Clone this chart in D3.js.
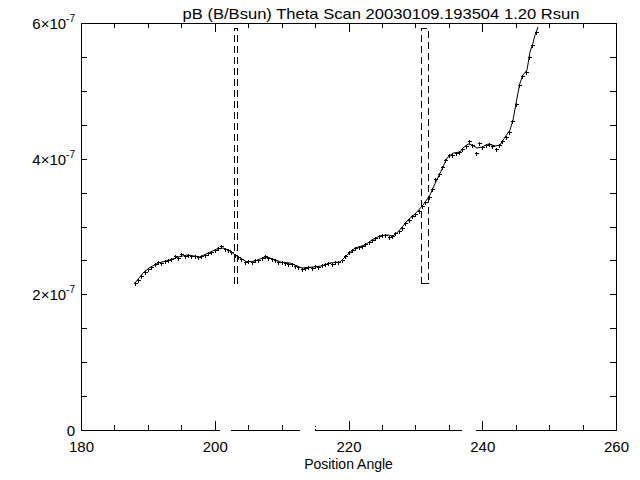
<!DOCTYPE html>
<html>
<head>
<meta charset="utf-8">
<script src="https://cdn.jsdelivr.net/npm/d3@7"></script>
<style>
  html, body { margin: 0; padding: 0; background: #fff; }
  svg { display: block; }
  text { font-family: "Liberation Sans", Arial, sans-serif; fill: #000; }
</style>
</head>
<body>
<script>
// ---------------- DATA ----------------
const titleText = "pB (B/Bsun) Theta Scan 20030109.193504 1.20 Rsun";
const xLabel = "Position Angle";
const xMajorTicks = [180, 200, 220, 240, 260];
const xMinorTicks = [185, 190, 195, 205, 210, 215, 225, 230, 235, 245, 250, 255];
const yMajorTicks = [0, 2e-7, 4e-7, 6e-7];
const yMinorTicks = [0.5e-7, 1e-7, 1.5e-7, 2.5e-7, 3e-7, 3.5e-7, 4.5e-7, 5e-7, 5.5e-7];
const yTickLabels = ["0", "2", "4", "6"];

// smoothed curve (angle in deg, pB in units of 1e-7)
const lineAngle = [188.07,189.27,190.17,191.51,193.31,194.50,195.85,196.90,197.79,198.99,200.34,201.23,202.28,203.03,203.78,204.82,206.02,207.51,208.26,209.76,211.25,213.05,214.69,216.04,217.23,218.73,219.78,220.97,222.47,223.51,224.71,225.91,226.65,227.40,228.90,229.94,231.14,232.19,232.64,234.13,234.73,235.63,236.67,237.12,237.87,238.47,239.21,239.96,240.86,241.91,242.65,243.40,244.15,244.60,245.20,245.64,246.09,246.69,247.14,247.59,247.89,248.34];
const lineValue = [2.167,2.314,2.388,2.462,2.506,2.550,2.580,2.565,2.550,2.609,2.668,2.683,2.639,2.580,2.536,2.477,2.491,2.550,2.536,2.477,2.462,2.388,2.403,2.418,2.462,2.477,2.580,2.683,2.727,2.801,2.860,2.875,2.860,2.919,3.096,3.184,3.317,3.464,3.568,3.877,4.010,4.083,4.098,4.157,4.216,4.201,4.157,4.172,4.216,4.187,4.201,4.319,4.423,4.570,4.894,5.115,5.233,5.307,5.572,5.705,5.823,5.941];

// measured points (+)
const pointAngle = [188.0,188.5,189.0,189.5,190.0,190.5,191.0,191.5,192.0,192.5,193.0,193.5,194.0,194.5,195.0,195.5,196.0,196.5,197.0,197.5,198.0,198.5,199.0,199.5,200.0,200.5,201.0,201.5,202.0,202.5,203.0,203.5,204.0,204.5,205.0,205.5,206.0,206.5,207.0,207.5,208.0,208.5,209.0,209.5,210.0,210.5,211.0,211.5,212.0,212.5,213.0,213.5,214.0,214.5,215.0,215.5,216.0,216.5,217.0,217.5,218.0,218.5,219.0,219.5,220.0,220.5,221.0,221.5,222.0,222.5,223.0,223.5,224.0,224.5,225.0,225.5,226.0,226.5,227.0,227.5,228.0,228.5,229.0,229.5,230.0,230.5,231.0,231.5,232.0,232.5,233.0,233.5,234.0,234.5,235.0,235.5,236.0,236.5,237.0,237.5,238.0,238.5,239.0,239.5,240.0,240.5,241.0,241.5,242.0,242.5,243.0,243.5,244.0,244.5,245.0,245.5,246.0,246.5,247.0,247.5,248.0];
const pointValue = [2.16,2.21,2.27,2.33,2.38,2.41,2.44,2.47,2.46,2.49,2.51,2.52,2.56,2.54,2.59,2.57,2.58,2.56,2.57,2.55,2.56,2.58,2.61,2.63,2.66,2.69,2.71,2.67,2.65,2.63,2.58,2.55,2.52,2.48,2.49,2.48,2.50,2.51,2.53,2.57,2.54,2.52,2.51,2.48,2.47,2.46,2.45,2.44,2.42,2.40,2.38,2.39,2.40,2.39,2.42,2.41,2.43,2.44,2.46,2.45,2.47,2.48,2.50,2.56,2.62,2.66,2.69,2.70,2.71,2.74,2.77,2.80,2.83,2.86,2.88,2.87,2.85,2.86,2.90,2.94,2.98,3.05,3.10,3.16,3.19,3.23,3.30,3.36,3.44,3.55,3.70,3.78,3.88,3.98,4.05,4.06,4.08,4.10,4.14,4.19,4.26,4.20,4.08,4.23,4.17,4.20,4.22,4.19,4.14,4.20,4.26,4.32,4.40,4.55,4.80,5.08,5.22,5.28,5.50,5.68,5.86];

// dashed boxes (angle range, value range in 1e-7)
const boxAngleStart = [202.88, 230.84];
const boxAngleEnd   = [203.40, 231.96];
const boxValueLow   = [2.167, 2.167];
const boxValueHigh  = [5.93, 5.93];

// gaps in the bottom axis line (angle ranges)
const gapStart = [200.73, 212.69, 236.94];
const gapEnd   = [202.40, 215.00, 239.05];

// ---------------- DRAW ----------------
const W = 640, H = 480;
const svg = d3.select("body").append("svg").attr("width", W).attr("height", H);
svg.append("rect").attr("width", W).attr("height", H).attr("fill", "#fff");

const x = d3.scaleLinear().domain([180, 260]).range([81, 616]);
const y = d3.scaleLinear().domain([0, 6e-7]).range([430, 23]);
const X0 = x.range()[0], X1 = x.range()[1], Y0 = y.range()[0], Y1 = y.range()[1];

const g = svg.append("g").attr("shape-rendering", "crispEdges");

function inGap(v) {
  for (let i = 0; i < gapStart.length; i++) if (v >= gapStart[i] && v <= gapEnd[i]) return true;
  return false;
}

// bottom axis: majors with labels
const bottomMajor = g.append("g").attr("transform", `translate(0,${Y0})`)
  .call(d3.axisBottom(x).tickValues(xMajorTicks).tickSize(-9).tickSizeOuter(0).tickPadding(11).tickFormat(d3.format("d")));
const bottomMinor = g.append("g").attr("transform", `translate(0,${Y0})`)
  .call(d3.axisBottom(x).tickValues(xMinorTicks).tickSize(-5).tickSizeOuter(0).tickFormat(""));
[bottomMajor, bottomMinor].forEach(ax => {
  ax.select(".domain").remove();
  ax.selectAll(".tick line").attr("stroke", "#000")
    .attr("stroke-dasharray", d => inGap(d) ? "1,2" : null);
});
bottomMajor.selectAll("text").attr("font-size", 15).attr("font-family", "Liberation Sans, Arial, sans-serif");

// bottom axis line with gaps
const segs = [];
let s = 180;
gapStart.forEach((gs, i) => { segs.push([s, gs]); s = gapEnd[i]; });
segs.push([s, 260]);
g.selectAll("line.baseSeg").data(segs).enter().append("line")
  .attr("class", "baseSeg")
  .attr("x1", d => x(d[0])).attr("x2", d => x(d[1]))
  .attr("y1", Y0 + 0.5).attr("y2", Y0 + 0.5)
  .attr("stroke", "#000");

// top axis
[[xMajorTicks, -9], [xMinorTicks, -5]].forEach(([tv, ts]) => {
  const a = g.append("g").attr("transform", `translate(0,${Y1})`)
    .call(d3.axisTop(x).tickValues(tv).tickSize(ts).tickSizeOuter(0).tickFormat(""));
  a.select(".domain").remove();
  a.selectAll(".tick line").attr("stroke", "#000");
});
g.append("line").attr("x1", X0).attr("x2", X1).attr("y1", Y1 + 0.5).attr("y2", Y1 + 0.5).attr("stroke", "#000");

// left & right axes
[[yMajorTicks, -6], [yMinorTicks, -6]].forEach(([tv, ts]) => {
  const l = g.append("g").attr("transform", `translate(${X0},0)`)
    .call(d3.axisLeft(y).tickValues(tv).tickSize(ts).tickSizeOuter(0).tickFormat(""));
  l.select(".domain").remove();
  l.selectAll(".tick line").attr("stroke", "#000");
  const r = g.append("g").attr("transform", `translate(${X1},0)`)
    .call(d3.axisRight(y).tickValues(tv).tickSize(ts).tickSizeOuter(0).tickFormat(""));
  r.select(".domain").remove();
  r.selectAll(".tick line").attr("stroke", "#000");
});
g.append("line").attr("x1", X0 + 0.5).attr("x2", X0 + 0.5).attr("y1", Y1).attr("y2", Y0 + 1).attr("stroke", "#000");
g.append("line").attr("x1", X1 + 0.5).attr("x2", X1 + 0.5).attr("y1", Y1).attr("y2", Y0 + 1).attr("stroke", "#000");

// y tick labels
const yl = svg.append("g");
yMajorTicks.forEach((v, i) => {
  const t = yl.append("text").attr("x", 75).attr("y", y(v) + 6)
    .attr("text-anchor", "end").attr("font-size", 15);
  if (v === 0) {
    t.text(yTickLabels[i]);
  } else {
    t.append("tspan").text(yTickLabels[i] + "\u00d710");
    t.append("tspan").attr("font-size", 10).attr("dy", -7).text("-7");
  }
});

// title & x label
svg.append("text").attr("x", 381).attr("y", 19).attr("text-anchor", "middle")
  .attr("font-size", 15).attr("textLength", 397).attr("lengthAdjust", "spacingAndGlyphs")
  .text(titleText);
svg.append("text").attr("x", (X0 + X1) / 2).attr("y", 469).attr("text-anchor", "middle")
  .attr("font-size", 14).text(xLabel);

// dashed boxes
const boxes = boxAngleStart.map((a, i) => ({a0: a, a1: boxAngleEnd[i], v0: boxValueLow[i], v1: boxValueHigh[i]}));
const bg = svg.append("g").attr("shape-rendering", "crispEdges");
boxes.forEach(b => {
  const xa = Math.round(x(b.a0)) + 0.5, xb = Math.round(x(b.a1)) + 0.5;
  const ya = Math.round(y(b.v1 * 1e-7)) + 0.5, yb = Math.round(y(b.v0 * 1e-7)) + 0.5;
  bg.append("path")
    .attr("d", `M${xa},${yb}L${xa},${ya}L${xb},${ya}L${xb},${yb}L${xa},${yb}`)
    .attr("fill", "none").attr("stroke", "#000").attr("stroke-dasharray", "7,4");
});

// curve
const lineData = lineAngle.map((a, i) => [a, lineValue[i] * 1e-7]);
svg.append("path").datum(lineData)
  .attr("d", d3.line().x(d => x(d[0])).y(d => y(d[1])))
  .attr("fill", "none").attr("stroke", "#000").attr("stroke-width", 1);

// points
const pts = pointAngle.map((a, i) => [a, pointValue[i] * 1e-7]);
svg.append("g").attr("shape-rendering", "crispEdges").selectAll("path.pt").data(pts).enter().append("path")
  .attr("class", "pt")
  .attr("transform", d => `translate(${Math.round(x(d[0])) + 0.5},${Math.round(y(d[1])) + 0.5})`)
  .attr("d", "M-1.5,0H2.5M0,-1.5V2.5")
  .attr("stroke", "#000").attr("fill", "none");
</script>
</body>
</html>
